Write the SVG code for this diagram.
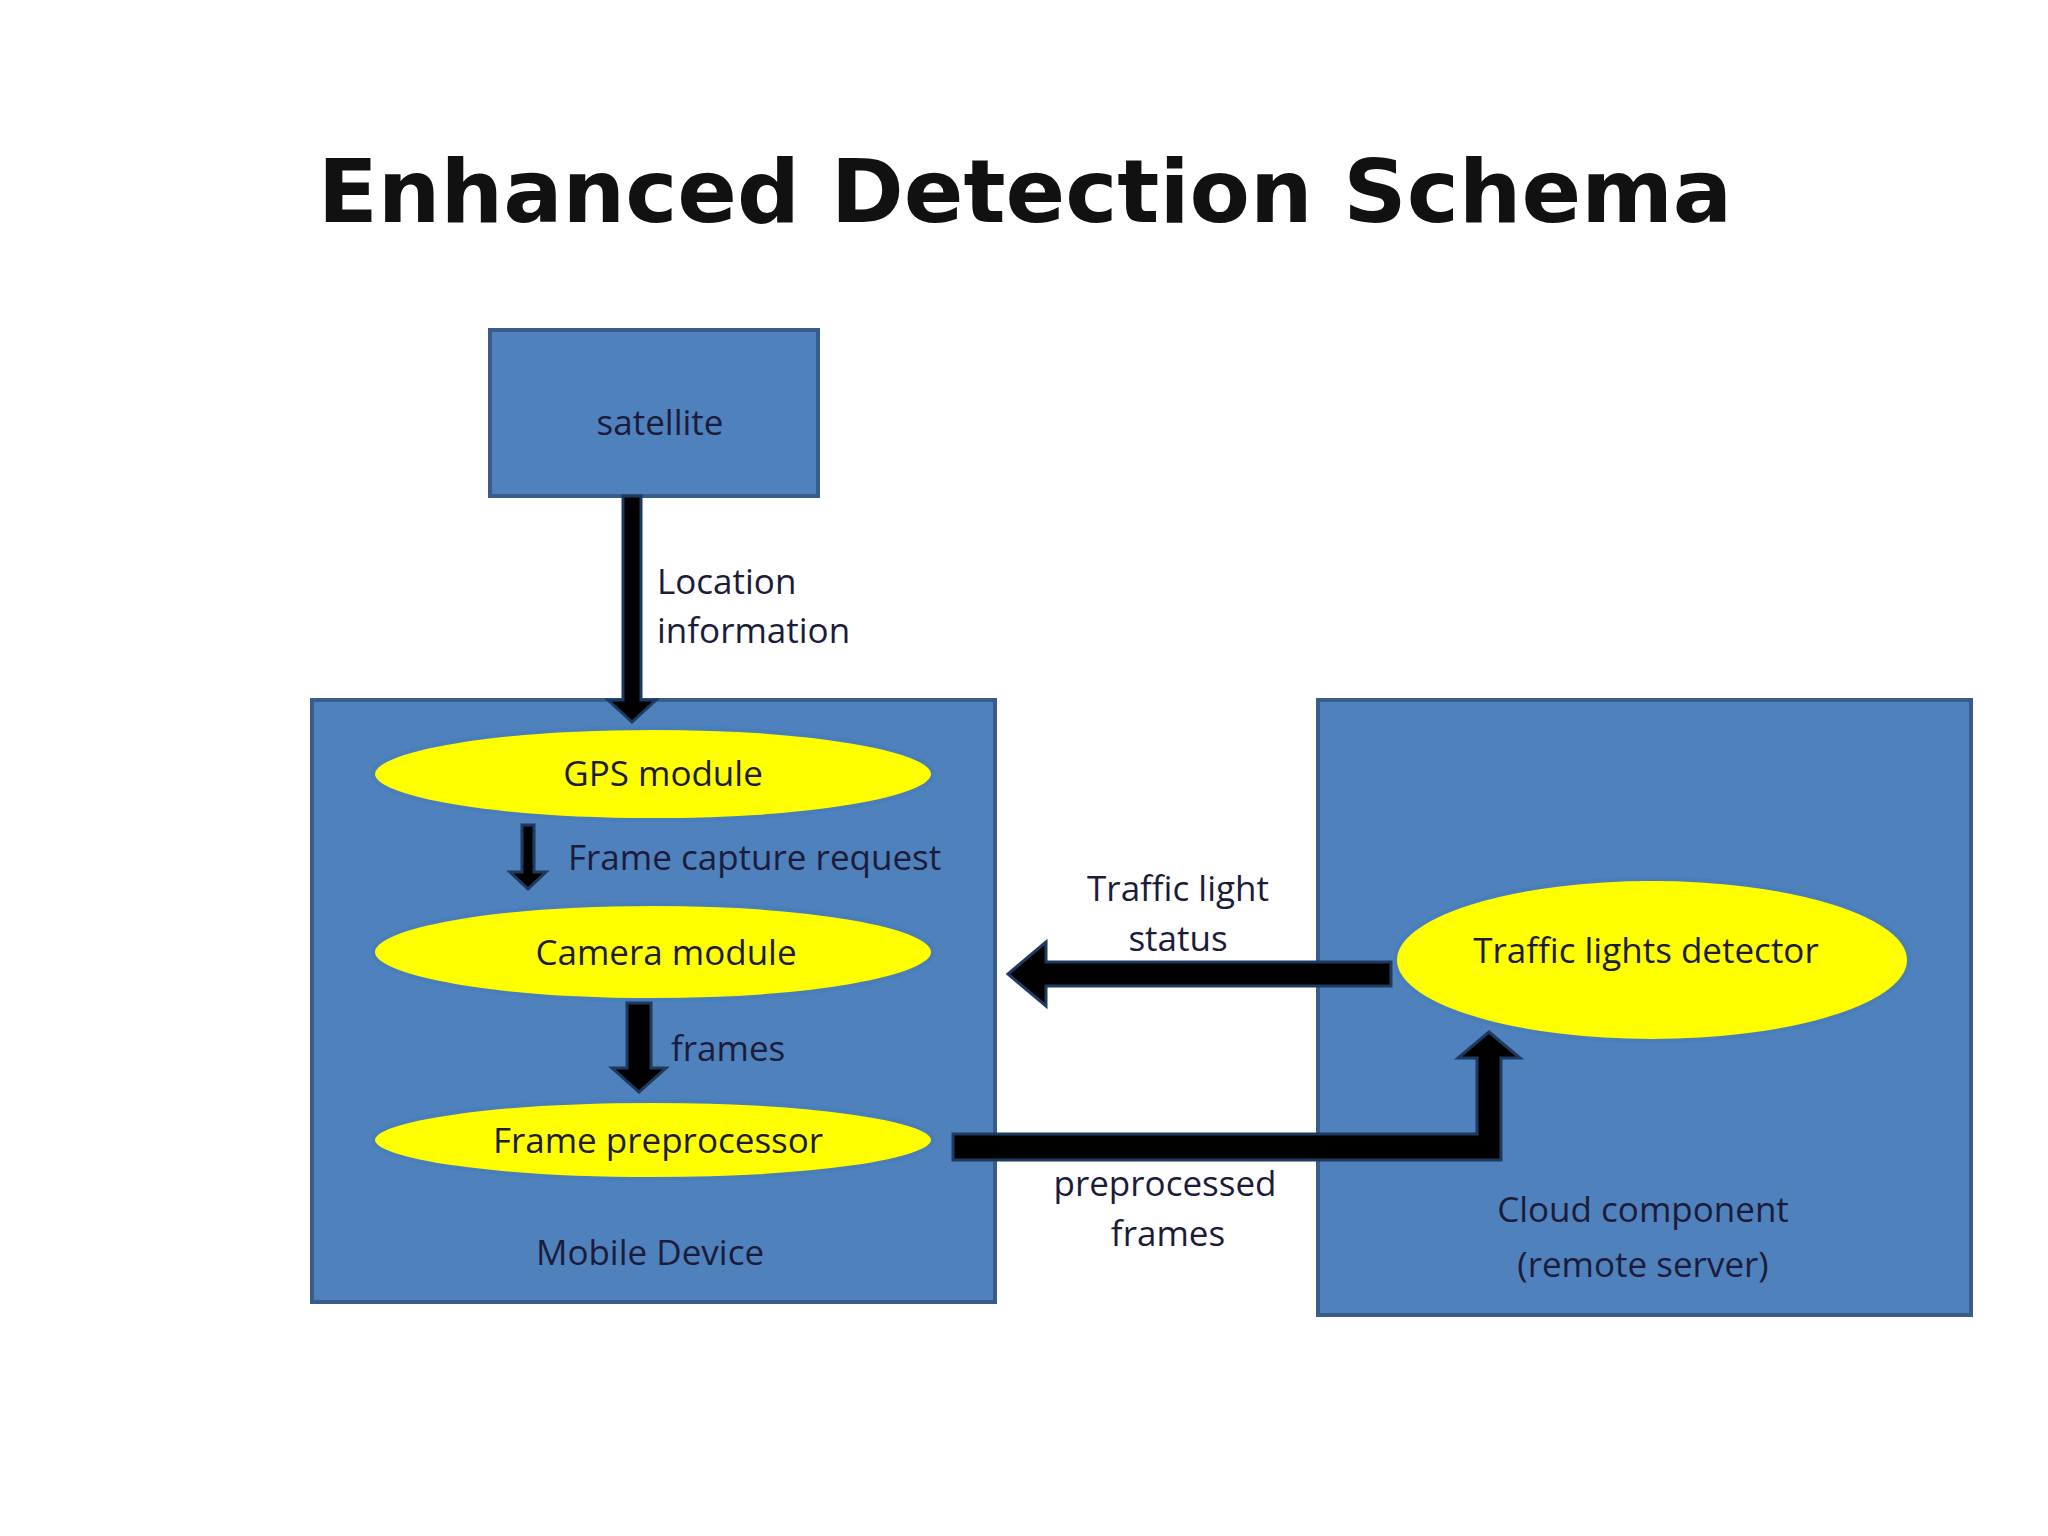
<svg xmlns="http://www.w3.org/2000/svg" width="2048" height="1536" viewBox="0 0 2048 1536">
<style>
.box{fill:#4f81bd;stroke:#385d8a;stroke-width:4}
.ell{fill:#ffff00;stroke:#4a7ebb;stroke-width:4}
.t{font-family:"Open Sans","DejaVu Sans",sans-serif;font-size:35px;fill:#1c1c3a}
.a{fill:#000;stroke:#1f3a60;stroke-width:3}
</style>
<rect width="2048" height="1536" fill="#fff"/>
<text x="1025" y="222" text-anchor="middle" font-family="'DejaVu Sans',sans-serif" font-weight="bold" font-size="88" fill="#111">Enhanced Detection Schema</text>
<g id="satellite"><rect class="box" x="490" y="330" width="328" height="166"/><text class="t" x="660" y="435" text-anchor="middle" font-size="40">satellite</text></g>
<g id="mobile"><rect class="box" x="312" y="700" width="683" height="602"/><text class="t" x="650" y="1265" text-anchor="middle" font-size="40">Mobile Device</text></g>
<g id="cloud"><rect class="box" x="1318" y="700" width="653" height="615"/><text class="t" x="1643" y="1222" text-anchor="middle" font-size="40">Cloud component</text><text class="t" x="1643" y="1277" text-anchor="middle" font-size="40">(remote server)</text></g>
<g id="gps"><ellipse class="ell" cx="653" cy="774" rx="280" ry="46"/><text class="t" x="663" y="786" text-anchor="middle">GPS module</text></g>
<g id="camera"><ellipse class="ell" cx="653" cy="952" rx="280" ry="48"/><text class="t" x="666" y="965" text-anchor="middle">Camera module</text></g>
<g id="preproc"><ellipse class="ell" cx="653" cy="1140" rx="280" ry="39"/><text class="t" x="658" y="1153" text-anchor="middle">Frame preprocessor</text></g>
<g id="detector"><ellipse class="ell" cx="1652" cy="960" rx="257" ry="81"/><text class="t" x="1646" y="963" text-anchor="middle">Traffic lights detector</text></g>
<g id="connectors">
<path class="a" d="M623,496 H641 V700 H656 L632,722 L608,700 H623 Z"/>
<path class="a" d="M522,825 H534 V872 H546 L528,889 L510,872 H522 Z"/>
<path class="a" d="M627,1003 H651 V1068 H666 L639,1092 L612,1068 H627 Z"/>
<path class="a" d="M1391,962 V986 H1046 V1006 L1008,974 L1046,942 V962 Z"/>
<path class="a" d="M953,1134 H1477 V1058 H1458 L1489,1032 L1520,1058 H1501 V1160 H953 Z"/>
<text class="t" x="657" y="594">Location</text>
<text class="t" x="657" y="643">information</text>
<text class="t" x="568" y="870">Frame capture request</text>
<text class="t" x="1178" y="901" text-anchor="middle">Traffic light</text>
<text class="t" x="1178" y="951" text-anchor="middle">status</text>
<text class="t" x="671" y="1061">frames</text>
<text class="t" x="1165" y="1196" text-anchor="middle">preprocessed</text>
<text class="t" x="1168" y="1246" text-anchor="middle">frames</text>
</g>
</svg>
